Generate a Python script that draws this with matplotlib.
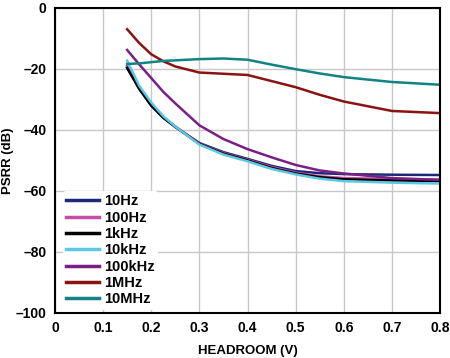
import matplotlib
matplotlib.use("Agg")
import matplotlib.pyplot as plt

plt.rcParams['font.family'] = ['Liberation Sans', 'DejaVu Sans']

headroom = [0.15, 0.175, 0.2, 0.225, 0.25, 0.3, 0.35, 0.4, 0.45, 0.5, 0.55, 0.6, 0.7, 0.8]

psrr_10hz = [-19.5, -26.5, -32.0, -36.0, -39.0, -44.3, -47.3, -49.5, -51.8, -53.5, -54.2, -54.5, -54.7, -54.8]
psrr_100hz = [-19.0, -26.0, -31.5, -35.7, -38.9, -44.5, -47.6, -49.8, -52.2, -54.0, -55.2, -55.8, -56.1, -56.3]
psrr_1khz = [-19.7, -26.5, -32.0, -36.0, -39.0, -44.6, -47.8, -50.0, -52.5, -54.3, -55.5, -56.2, -56.6, -56.8]
psrr_10khz = [-17.3, -25.5, -31.0, -35.5, -38.9, -44.8, -48.1, -50.3, -52.8, -54.6, -56.0, -56.8, -57.3, -57.6]
psrr_100khz = [-13.8, -18.5, -23.0, -27.5, -31.3, -38.5, -43.0, -46.3, -49.0, -51.5, -53.3, -54.3, -55.8, -56.4]
psrr_1mhz = [-7.0, -11.5, -15.2, -17.5, -19.2, -21.2, -21.6, -22.0, -24.0, -26.0, -28.5, -30.7, -33.8, -34.5]
psrr_10mhz = [-18.4, -18.2, -17.8, -17.4, -17.2, -16.8, -16.6, -17.0, -18.6, -20.1, -21.5, -22.7, -24.3, -25.2]

series = [
    ('10Hz', psrr_10hz, '#1e2878'),
    ('100Hz', psrr_100hz, '#c64ea6'),
    ('1kHz', psrr_1khz, '#000000'),
    ('10kHz', psrr_10khz, '#5ec8e2'),
    ('100kHz', psrr_100khz, '#7a1f86'),
    ('1MHz', psrr_1mhz, '#8a1212'),
    ('10MHz', psrr_10mhz, '#128282'),
]

fig = plt.figure(figsize=(4.5, 3.58), dpi=100)
ax = fig.add_axes([0.122, 0.126, 0.856, 0.852])

for label, vals, color in series:
    ax.plot(headroom, vals, color=color, lw=1.8, label=label)

ax.set_xlim(0, 0.8)
ax.set_ylim(-100, 0)
ax.set_xticks([0, 0.1, 0.2, 0.3, 0.4, 0.5, 0.6, 0.7, 0.8])
ax.set_xticklabels(['0', '0.1', '0.2', '0.3', '0.4', '0.5', '0.6', '0.7', '0.8'])
ax.set_yticks([0, -20, -40, -60, -80, -100])
ax.set_yticklabels(['0', '–20', '–40', '–60', '–80', '–100'])
ax.tick_params(length=0, labelsize=10, pad=6)
for lbl in ax.get_xticklabels() + ax.get_yticklabels():
    lbl.set_fontweight('bold')
ax.grid(True, color='#c8c8c8', lw=1)
ax.set_axisbelow(True)
for sp in ax.spines.values():
    sp.set_linewidth(1.5)

ax.set_xlabel('HEADROOM (V)', fontsize=9.5, fontweight='bold', labelpad=7)
ax.set_ylabel('PSRR (dB)', fontsize=9.5, fontweight='bold', labelpad=1)

leg = ax.legend(loc='lower left', bbox_to_anchor=(0.013, 0.0), frameon=True,
                fontsize=10.5, handlelength=2.2, handletextpad=0.35,
                labelspacing=0.16, borderpad=0.25, borderaxespad=0.2)
leg.get_frame().set_edgecolor('none')
leg.get_frame().set_facecolor('white')
leg.get_frame().set_alpha(1)
for t in leg.get_texts():
    t.set_fontweight('bold')
for h in leg.get_lines():
    h.set_linewidth(2.5)

fig.savefig('out.png', dpi=100)
